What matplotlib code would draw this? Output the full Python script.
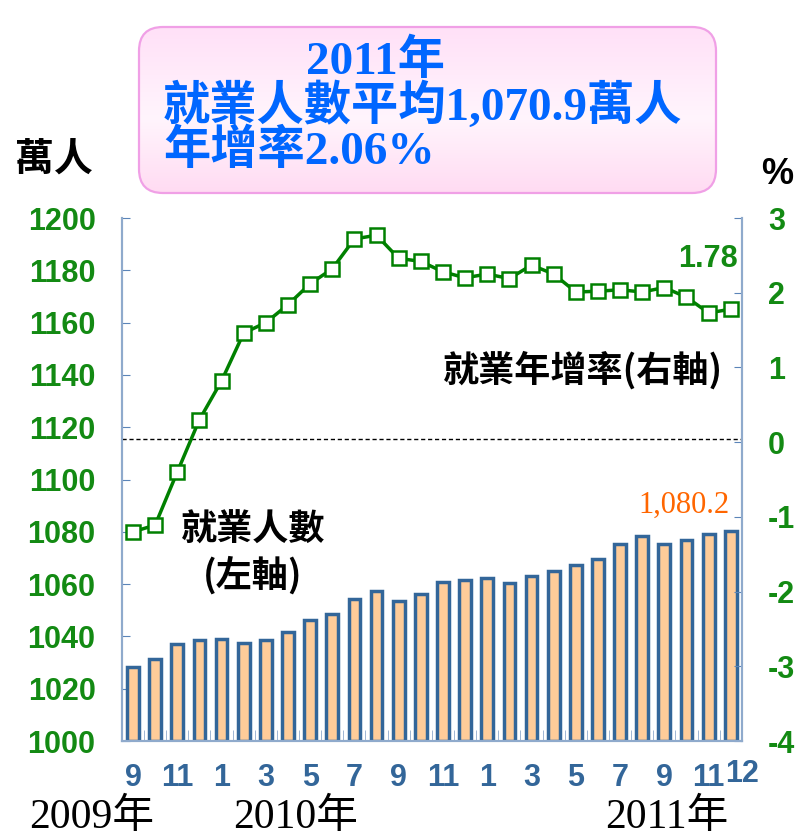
import numpy as np
import matplotlib
matplotlib.use("Agg")
import matplotlib.pyplot as plt
from matplotlib.patches import FancyBboxPatch

plt.rcParams["axes.unicode_minus"] = False

# monthly data, Sep 2009 .. Dec 2011
months = [9, 10, 11, 12, 1, 2, 3, 4, 5, 6, 7, 8, 9, 10, 11, 12,
          1, 2, 3, 4, 5, 6, 7, 8, 9, 10, 11, 12]
employed = [1028.3, 1031.3, 1037.1, 1038.6, 1039.1, 1037.6, 1038.6, 1041.6,
            1046.1, 1048.4, 1054.2, 1057.2, 1053.4, 1056.1, 1060.8, 1061.4,
            1062.4, 1060.3, 1063.1, 1065.0, 1067.2, 1069.8, 1075.4, 1078.5,
            1075.2, 1076.7, 1079.0, 1080.2]
growth = [-1.20, -1.11, -0.40, 0.30, 0.82, 1.46, 1.60, 1.84, 2.12, 2.32,
          2.72, 2.77, 2.46, 2.42, 2.28, 2.20, 2.25, 2.19, 2.37, 2.25,
          2.01, 2.02, 2.04, 2.01, 2.07, 1.94, 1.73, 1.78]
years = ["2009年", "2010年", "2011年"]
title_lines = ["2011年", "就業人數平均1,070.9萬人", "年增率2.06%"]

SANS = ["Liberation Sans", "DejaVu Sans"]
SERIF = ["Liberation Serif", "Noto Sans CJK TC"]
CJK = ["Noto Sans CJK TC", "Liberation Sans"]
GREEN = "#138A13"
AXBLUE = "#8FAACC"

fig = plt.figure(figsize=(8.02, 8.36), dpi=100)
ax = fig.add_axes([0.152, 0.1136, 0.773, 0.6256])
ax2 = ax.twinx()

x = np.arange(len(employed))
ax.bar(x, np.array(employed) - 1000, bottom=1000, width=0.53,
       color="#FFCC99", edgecolor="#336699", linewidth=2.5, zorder=2)
ax.set_ylim(1000, 1200)
ax.set_xlim(-0.5, len(employed) - 0.5)
ax.set_yticks(range(1000, 1201, 20))

ax2.plot(x, growth, color="#008000", linewidth=2.5, marker="s",
         markersize=9.5, markerfacecolor="white", markeredgecolor="#008000",
         markeredgewidth=1.8, zorder=3)
ax2.axhline(0.04, color="black", linestyle=(0, (3, 2)), linewidth=1, zorder=1)
ax2.set_ylim(-4, 3)
ax2.set_yticks(range(-4, 4))

tick_pos = list(range(0, len(months) - 1, 2))
ax.set_xticks(tick_pos)
ax.set_xticklabels([str(months[i]) for i in tick_pos])
ax.set_xticks(np.arange(len(months)) + 0.5, minor=True)

for a in (ax, ax2):
    a.spines["top"].set_visible(False)
    for s in ("left", "right", "bottom"):
        a.spines[s].set_color(AXBLUE)
        a.spines[s].set_linewidth(1.5)
ax.tick_params(axis="y", direction="in", length=6, color="#5B84B8",
               labelcolor=GREEN, pad=19)
ax2.tick_params(axis="y", direction="in", length=6, color="#5B84B8",
                labelcolor=GREEN, pad=19)
ax.tick_params(axis="x", which="major", direction="in", length=0,
               labelcolor="#336699", pad=16)
ax.tick_params(axis="x", which="minor", direction="in", length=8,
               color=AXBLUE)
for lab in ax.get_yticklabels() + ax2.get_yticklabels() + ax.get_xticklabels():
    lab.set_fontfamily(SANS)
    lab.set_fontweight("bold")
    lab.set_fontsize(22)

# last month label sits a bit higher
ax.annotate(str(months[-1]), xy=(x[-1], 1000), xytext=(8, -13),
            textcoords="offset points", ha="center", va="top",
            fontsize=22, fontweight="bold", color="#336699", family=SANS,
            annotation_clip=False)

ax.annotate(f"{employed[-1]:,.1f}", xy=(x[-1], employed[-1]), xytext=(-1, 8),
            textcoords="offset points", ha="right", va="bottom",
            fontsize=22, color="#FF6600", family=SERIF)
ax2.annotate(f"{growth[-1]:.2f}", xy=(x[-1], growth[-1]), xytext=(5, 25),
             textcoords="offset points", ha="right", va="bottom",
             fontsize=22, fontweight="bold", color=GREEN, family=SANS)

# overlay in pixel coordinates for the free text and the title box
ov = fig.add_axes([0, 0, 1, 1], zorder=3)
ov.set_xlim(0, 802)
ov.set_ylim(836, 0)
ov.axis("off")

box = FancyBboxPatch((139, 27), 577, 166,
                     boxstyle="round,pad=0,rounding_size=24",
                     facecolor="none", edgecolor="#F0A0E6", linewidth=1.6)
ov.add_patch(box)
grad = np.linspace(0, 1, 100)
cols = np.array([[1.0, 0.88, 0.97], [1.0, 0.96, 0.99], [1.0, 0.86, 0.95]])
img = np.zeros((100, 1, 3))
for c in range(3):
    img[:, 0, c] = np.interp(grad, [0, 0.55, 1], cols[:, c])
im = ov.imshow(img, extent=(139, 716, 193, 27), aspect="auto", zorder=0)
im.set_clip_path(box)
box.set_zorder(1)

ov.text(375, 62, title_lines[0], ha="center", va="center", fontsize=34,
        fontweight="bold", color="#0066FF", family=SERIF)
ov.text(163, 106, title_lines[1], ha="left", va="center", fontsize=34,
        fontweight="bold", color="#0066FF", family=SERIF)
ov.text(163, 152, title_lines[2], ha="left", va="center", fontsize=34,
        fontweight="bold", color="#0066FF", family=SERIF)

ov.text(54, 160, "萬人", ha="center", va="center", fontsize=28,
        fontweight="bold", family=CJK)
ov.text(777, 175, "%", ha="center", va="center", fontsize=26,
        fontweight="bold", family=SANS)

ov.text(583, 370, "就業年增率(右軸)", ha="center", va="center", fontsize=26,
        fontweight="bold", family=CJK)
ov.text(253, 530, "就業人數", ha="center", va="center", fontsize=26,
        fontweight="bold", family=CJK)
ov.text(253, 575, "(左軸)", ha="center", va="center", fontsize=26,
        fontweight="bold", family=CJK)

for xc, yr in zip([92, 296, 667], years):
    ov.text(xc, 818, yr, ha="center", va="center", fontsize=30,
            color="black", family=SERIF)

fig.savefig("out.png", dpi=100)
